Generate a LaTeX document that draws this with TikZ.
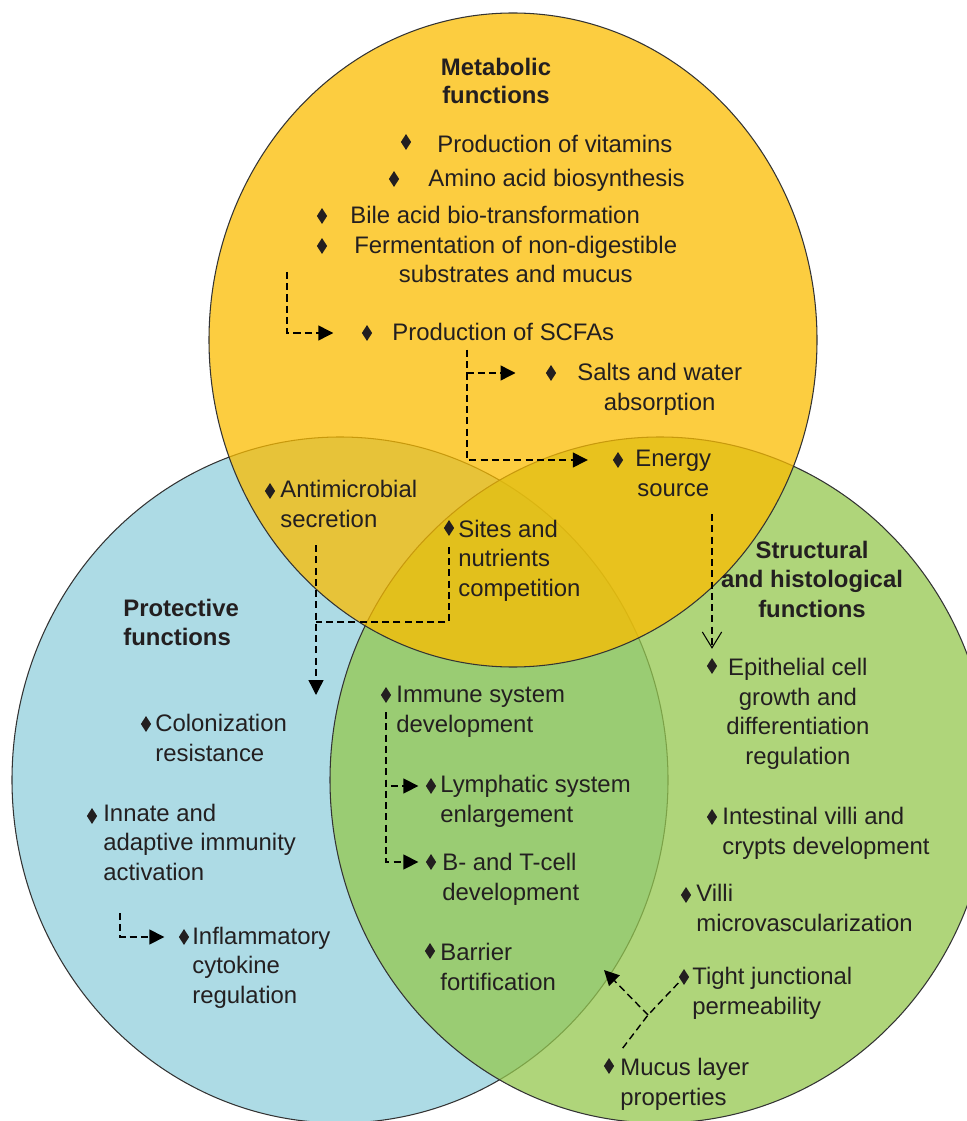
\documentclass[tikz,border=0pt]{standalone}
\usepackage{fontspec}
\setmainfont{Liberation Sans}
\usetikzlibrary{arrows.meta,shapes.geometric}

\definecolor{protblue}{RGB}{173,219,229}
\definecolor{structgreen}{RGB}{148,199,78}
\definecolor{metayellow}{RGB}{251,188,0}
\definecolor{ink}{RGB}{35,31,32}

\begin{document}
\begin{tikzpicture}[x=0.02cm, y=-0.02cm,
    every node/.style={font=\fontsize{13.6}{16.7}\selectfont, text=ink, inner sep=0pt},
    txt/.style={anchor=base west, align=left},
    ctxt/.style={anchor=base west, align=center},
    title/.style={font=\fontsize{13.6}{16.1}\selectfont\bfseries, anchor=base, align=center},
    dot/.style={diamond, fill=ink, minimum width=6pt, minimum height=9.2pt},
    venn/.style={draw=black!80, line width=0.6pt},
    link/.style={dash pattern=on 4pt off 2.4pt, line width=0.8pt},
    flow/.style={link, -{Triangle[length=8.5pt,width=8.5pt]}},
    openflow/.style={link, -{Straight Barb[length=9pt,width=11pt,line width=0.6pt]}}]

    \useasboundingbox (0,0) rectangle (966,1121);

    % the three sets
    \path[venn, fill=protblue] (340,780) ellipse [x radius=328, y radius=343];
    \path[venn, fill=structgreen, fill opacity=0.75] (660,780) ellipse [x radius=330, y radius=343];
    \path[venn, fill=metayellow, fill opacity=0.75] (513,340) ellipse [x radius=304, y radius=327];

    % titles (base = last line)
    \node[title] (0) at (496,104) {Metabolic\\functions};
    \node[title, anchor=base west, align=left] (00) at (123,645) {Protective\\functions};
    \node[title, font=\fontsize{13.6}{16.6}\selectfont\bfseries] (000) at (812,617) {Structural\\and histological\\functions};

    % metabolic
    \node[dot] (d1) at (406,142) {};
    \node[txt] (1) at (437,153) {Production of vitamins};
    \node[dot] (d2) at (394,179) {};
    \node[txt] (2) at (428,187) {Amino acid biosynthesis};
    \node[dot] (d3) at (322,216) {};
    \node[txt] (3) at (350,224) {Bile acid bio-transformation};
    \node[dot] (d4) at (322,246) {};
    \node[ctxt] (4) at (354,283) {Fermentation of non-digestible\\substrates and mucus};
    \node[dot] (d5) at (367,333) {};
    \node[txt] (5) at (392,341) {Production of SCFAs};
    \node[dot] (d6) at (551,373) {};
    \node[ctxt] (6) at (577,410) {Salts and water\\absorption};
    \node[dot] (d7) at (618,460) {};
    \node[ctxt] (7) at (635,496) {Energy\\source};
    \node[dot] (d8) at (270,491) {};
    \node[txt] (8) at (280,527) {Antimicrobial\\secretion};
    \node[dot] (d9) at (449,528) {};
    \node[txt] (9) at (458,596) {Sites and\\nutrients\\competition};

    % protective
    \node[dot] (d10) at (146,724) {};
    \node[txt] (10) at (155,761) {Colonization\\resistance};
    \node[dot] (d11) at (92,816) {};
    \node[txt] (11) at (103,880) {Innate and\\adaptive immunity\\activation};
    \node[dot] (d12) at (184,937) {};
    \node[txt] (12) at (192,1003) {Inflammatory\\cytokine\\regulation};
    \node[dot] (d13) at (386,695) {};
    \node[txt] (13) at (396,732) {Immune system\\development};
    \node[dot] (d14) at (431,786) {};
    \node[txt] (14) at (440,822) {Lymphatic system\\enlargement};
    \node[dot] (d15) at (431,862) {};
    \node[txt] (15) at (442,900) {B- and T-cell\\development};
    \node[dot] (d16) at (430,951) {};
    \node[txt] (16) at (440,990) {Barrier\\fortification};

    % structural
    \node[dot] (d17) at (712,666) {};
    \node[ctxt] (17) at (726,764) {Epithelial cell\\growth and\\differentiation\\regulation};
    \node[dot] (d18) at (712,817) {};
    \node[txt] (18) at (722,854) {Intestinal villi and\\crypts development};
    \node[dot] (d19) at (686,895) {};
    \node[txt] (19) at (696,931) {Villi\\microvascularization};
    \node[dot] (d20) at (684,977) {};
    \node[txt] (20) at (692,1014) {Tight junctional\\permeability};
    \node[dot] (d21) at (609,1066) {};
    \node[txt] (21) at (620,1105) {Mucus layer\\properties};

    \coordinate (c1) at (287,272);
    \coordinate (c2) at (467,350);
    \coordinate (c3) at (316,695);
    \coordinate (c4) at (316,622);
    \coordinate (c6) at (120,913);
    \coordinate (c7) at (648,1015);
    \coordinate (c8) at (604,970);

    \draw[flow, shorten >=16pt] (c1) |- (d5);
    \draw[flow, shorten >=17pt] (c2) |- (d6);
    \draw[flow, shorten >=14pt] (c2) |- (d7);
    \draw[openflow, shorten <=10pt, shorten >=5pt] (7.south -| d17) -- (d17);
    \draw[flow, shorten <=10pt] (8.south -| c3) -- (c3);
    \draw[link, shorten <=6pt] (d9) |- (c4);
    \draw[flow, shorten <=5pt, shorten >=4pt] (d13) |- (d14);
    \draw[flow, shorten <=5pt, shorten >=4pt] (d13) |- (d15);
    \draw[flow, shorten >=8pt] (c6) |- (d12);
    \draw[link, shorten <=10pt, shorten >=2pt] (d21) -- (c7) -- (d20);
    \draw[flow] (c7) -- (c8);
\end{tikzpicture}
\end{document}
